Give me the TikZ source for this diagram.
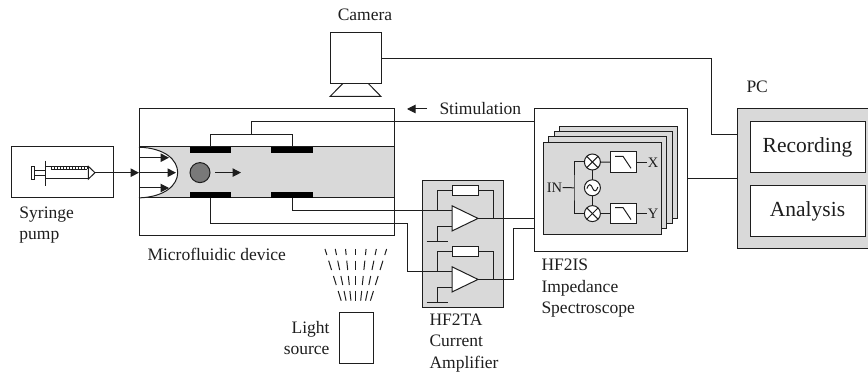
\documentclass[tikz,border=0pt]{standalone}
\usepackage{fontspec}
\setmainfont{Liberation Serif}
\usetikzlibrary{arrows.meta}
\definecolor{panel}{HTML}{D9D9D9}
\definecolor{ink}{HTML}{1E1E1E}
\tikzset{
  box/.style={draw=ink,inner sep=0pt,outer sep=0pt,line width=1pt},
  whitebox/.style={box,fill=white},
  graybox/.style={box,fill=panel},
  electrode/.style={fill=black,draw=none,inner sep=0pt,outer sep=0pt,minimum width=41.5pt,minimum height=6pt},
  roundel/.style={circle,draw=ink,fill=white,inner sep=0pt,outer sep=0pt,minimum size=16pt,line width=1pt},
  lab/.style={inner sep=0pt,font=\fontsize{17.5}{21.5}\selectfont,text=ink,align=left},
  big/.style={inner sep=0pt,font=\fontsize{21.5}{24}\selectfont,text=ink},
  small/.style={inner sep=0pt,font=\fontsize{14.5}{16}\selectfont,text=ink},
  head/.style={-{Triangle[length=8.5pt,width=8.5pt]}}
}
\begin{document}
\begin{tikzpicture}[x=1pt,y=-1pt,line width=1pt,draw=ink]
\useasboundingbox (0,0) rectangle (868,379);

% Camera
\node[whitebox,minimum width=51pt,minimum height=51pt] (cam) at (355.5,58.2) {};
\draw (342.7,83.7) -- (330,96.5) -- (381,96.5) -- (368.5,83.7);
\node[lab] (camlab) at (365,15) {Camera};

% Syringe pump
\node[whitebox,minimum width=101.5pt,minimum height=51pt] (pump) at (62.7,172.5) {};
\node[box,fill=white,minimum width=3.5pt,minimum height=12.7pt,line width=.9pt] (plunger) at (32.7,172.7) {};
\draw[line width=.9pt] (plunger.east |- 0,170) -- (46,170) (plunger.east |- 0,175.6) -- (46,175.6);
\node[whitebox,minimum width=42.5pt,minimum height=12.5pt] (barrel) at (67.2,172.7) {};
\draw (45.8,160.7) -- (45.8,186);
\coordinate (nozzle) at (95,172.7);
\draw[fill=white] (barrel.north east) -- (nozzle) -- (barrel.south east) -- cycle;
\foreach \i in {0,...,12} \draw[line width=.7pt] (51+\i*3,166.5) -- (51+\i*3,169.5);
\draw[line width=.9pt] (51,169.5) -- (87,169.5);

% Microfluidic device
\node[whitebox,minimum width=255pt,minimum height=127pt] (dev) at (266.5,172.5) {};
\node[graybox,minimum width=255pt,minimum height=51pt] (chan) at (266.5,172.5) {};
\draw[fill=white] (139,147.2) .. controls (165,148) and (177.7,160) .. (177.7,172.6)
  .. controls (177.7,185) and (165,197) .. (139,197.9);
\draw (139,147) -- (139,198);
\draw[head] (139,157.7) -- (169,157.7);
\draw[head] (139,172.7) -- (176,172.7);
\draw[head] (139,188) -- (169,188);
\draw[head] (nozzle) -- (139,172.7);
\node[circle,draw=ink,fill=gray!95!black,minimum size=20pt,inner sep=0pt,outer sep=0pt] (bead) at (200,172.6) {};
\coordinate (beadarrowa) at (215,172.6);
\coordinate (beadarrowb) at (241,172.6);
\draw[head] (beadarrowa) -- (beadarrowb);
\node[electrode] (et1) at (210.5,150) {};
\node[electrode] (et2) at (292,150) {};
\node[electrode] (eb1) at (210.5,195) {};
\node[electrode] (eb2) at (292,195) {};
\node[lab,anchor=west] (devlab) at (147,254) {Microfluidic device};
\node[lab,anchor=north west] (pumplab) at (19,206) {Syringe\\pump};

% Stimulation
\node[lab,anchor=west] (stim) at (439,109) {Stimulation};
\coordinate (stima) at (427,109);
\coordinate (stimb) at (407,109);
\draw[head] (stima) -- (stimb);

% Light
\foreach \ya/\yb in {249/255,260.7/270,276/285,291/300.7}
  \foreach \k in {-3,...,3}
    \draw ({355.8+\k*(4.87+(300.7-\ya)*0.1045)},\ya) -- ({355.8+\k*(4.87+(300.7-\yb)*0.1045)},\yb);
\node[whitebox,minimum width=33.5pt,minimum height=51pt] (light) at (356.7,338.2) {};
\node[lab,anchor=east,align=right] (lightlab) at (330,338) {Light\\source};

% HF2TA
\node[graybox,minimum width=81pt,minimum height=127.5pt] (amp) at (462.5,244) {};
\foreach \d/\n in {0/a,61/b}{
  \node[whitebox,minimum width=26pt,minimum height=9.6pt] (res\n) at (465,190.8+\d) {};
  \coordinate (in\n) at (437,211+\d);
  \coordinate (tip\n) at (478,218.4+\d);
  \coordinate (pl\n) at (452,226.6+\d);
  \coordinate (gnd\n) at (437,241.7+\d);
  \draw (in\n) |- (res\n.west);
  \draw (res\n.east) -| (493,218.4+\d);
  \draw (pl\n) -| (gnd\n);
  \draw (gnd\n) ++(-10.5,0) -- ++(21,0);
  \draw (in\n) -- (452,211+\d);
  \draw[fill=white] (452,205.8+\d) -- (tip\n) -- (452,231+\d) -- cycle;
}
\node[lab,anchor=north west] (amplab) at (429,313) {HF2TA\\Current\\Amplifier};

% HF2IS
\node[whitebox,minimum width=153pt,minimum height=143pt] (is) at (610.5,180.5) {};
\foreach \o in {15.6,10.4,5.2,0}
  \node[graybox,minimum width=118pt,minimum height=92pt] (plate\o) at ({602.6+\o},{188.2-\o}) {};
\node[roundel] (mxa) at (592.4,162) {};
\node[roundel] (osc) at (592.4,187.8) {};
\node[roundel] (mxb) at (592.4,213.6) {};
\foreach \m in {mxa,mxb}{
  \draw (\m.45) -- (\m.225);
  \draw (\m.135) -- (\m.315);
}
\draw (586.9,188.6) .. controls (588.5,183.2) and (591,184) .. (592.4,187.8)
  .. controls (593.8,191.6) and (596.3,192.4) .. (597.9,187);
\draw (mxa) -- (osc);
\draw (osc) -- (mxb);
\node[whitebox,minimum width=26pt,minimum height=20.7pt] (fa) at (623,162.3) {};
\node[whitebox,minimum width=26pt,minimum height=20.7pt] (fb) at (623,213.6) {};
\foreach \f in {fa,fb}
  \draw ([shift={(-8,-6)}]\f.center) -- ([shift={(0,-6)}]\f.center) -- ([shift={(8,6)}]\f.center);
\draw (mxa) -- (fa);
\draw (mxb) -- (fb);
\node[small] (xl) at (653,162.3) {X};
\node[small] (yl) at (653,213.6) {Y};
\node[small] (inl) at (554.5,187.4) {IN};
\draw (fa) -- (xl);
\draw (fb) -- (yl);
\coordinate (split) at (574,187.8);
\draw (inl) -- (split);
\draw (mxa) -| (split) |- (mxb);
\node[lab,anchor=north west] (islab) at (541,258.5) {HF2IS\\Impedance\\Spectroscope};

% PC
\node[graybox,minimum width=132pt,minimum height=140pt] (pc) at (803.4,179) {};
\node[whitebox,minimum width=115pt,minimum height=51pt] (rec) at (807.5,147.3) {};
\node[whitebox,minimum width=115pt,minimum height=51pt] (ana) at (807.5,211.3) {};
\node[big] at (rec.center) {Recording};
\node[big] at (ana.center) {Analysis};
\node[lab,anchor=west] (pclab) at (746,87) {PC};

% Connectors
\coordinate (camknee) at (711.7,58.2);
\draw (cam.east) -- (camknee) |- (737.4,134.4);
\draw (is.east |- pc.west) -- (pc.west);
\coordinate (stimtap) at (251,134.5);
\draw (et1.north) |- (stimtap) -| (et2.north);
\draw (stimtap) |- (534,122);
\draw (eb2.south) |- (ina);
\draw (eb1.south) |- (407,224) |- (inb);
\draw (tipa) -- (534,218.4);
\draw (tipb) -| (513.3,228.6) -- (534,228.6);
\end{tikzpicture}
\end{document}
